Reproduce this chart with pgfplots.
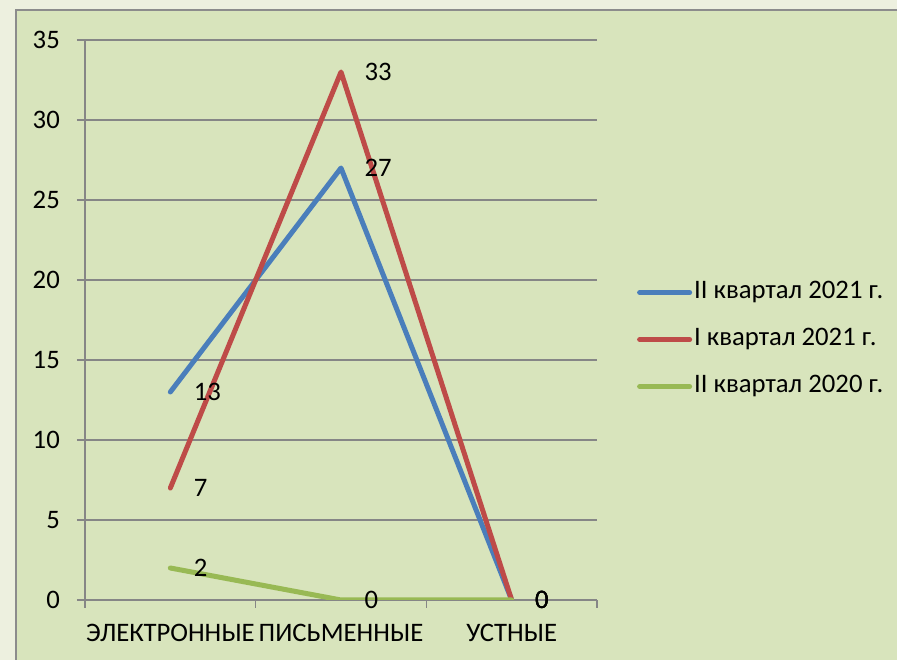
\documentclass[border=0pt]{standalone}
\usepackage{fontspec}
\setmainfont{Carlito}
\usepackage{pgfplots}
\pgfplotsset{compat=1.18}
\definecolor{bgout}{HTML}{EDF0DF}
\definecolor{bgin}{HTML}{D8E4BC}
\definecolor{framegray}{HTML}{8C8C8C}
\definecolor{gridgray}{HTML}{868686}
\definecolor{sblue}{HTML}{4A7EBB}
\definecolor{sred}{HTML}{BE4B48}
\definecolor{sgreen}{HTML}{98B954}
\newcommand\chfont{\fontsize{26.7}{32}\selectfont}
\begin{document}
\chfont
\begin{tikzpicture}
\useasboundingbox (0,0) rectangle (897pt,660pt);
\fill[bgout] (0,0) rectangle (897pt,660pt);
\filldraw[fill=bgin, draw=framegray, line width=2pt] (16pt,650pt) rectangle (910pt,-10pt);
\begin{axis}[
  at={(85pt,60pt)}, anchor=south west,
  scale only axis, width=512pt, height=560pt,
  xmin=-0.5, xmax=2.5, ymin=0, ymax=35,
  axis lines=left,
  axis line style={-, draw=gridgray, line width=1.5pt},
  xtick={0,1,2},
  xticklabels={ЭЛЕКТРОННЫЕ,ПИСЬМЕННЫЕ,УСТНЫЕ},
  major x tick style={draw=none},
  minor xtick={-0.5,0.5,1.5,2.5},
  ytick={0,5,...,35},
  tick align=outside,
  major tick length=8pt, minor tick length=8pt,
  tick style={draw=gridgray, line width=1.5pt},
  ymajorgrids,
  grid style={draw=gridgray, line width=1.5pt},
  /pgf/number format/assume math mode=true,
  ticklabel style={font=\chfont, text=black},
  yticklabel style={anchor=east, inner sep=0pt, xshift=-17pt},
  xticklabel style={anchor=center, inner sep=0pt, yshift=-25pt},
  nodes near coords,
  every node near coord/.append style={anchor=west, inner sep=0pt, xshift=21pt, font=\chfont, text=black},
  legend style={at={(1.078,0.465)}, anchor=west, draw=none, fill=none, inner sep=0pt,
    row sep=23pt, column sep=2pt, font=\chfont,
    nodes={inner sep=0pt, text height=18pt, text depth=6pt}},
  legend cell align=left,
  legend image code/.code={\draw[#1, line width=5pt, line cap=round] (2.5pt,0pt) -- (52.5pt,0pt);},
]
\addplot[sblue, line width=5pt, line join=round, line cap=round] coordinates {(0,13) (1,27) (2,0)};
\addlegendentry{II квартал 2021 г.}
\addplot[sred, line width=5pt, line join=round, line cap=round] coordinates {(0,7) (1,33) (2,0)};
\addlegendentry{I квартал 2021 г.}
\addplot[sgreen, line width=5pt, line join=round, line cap=round] coordinates {(0,2) (1,0) (2,0)};
\addlegendentry{II квартал 2020 г.}
\end{axis}
\end{tikzpicture}
\end{document}
